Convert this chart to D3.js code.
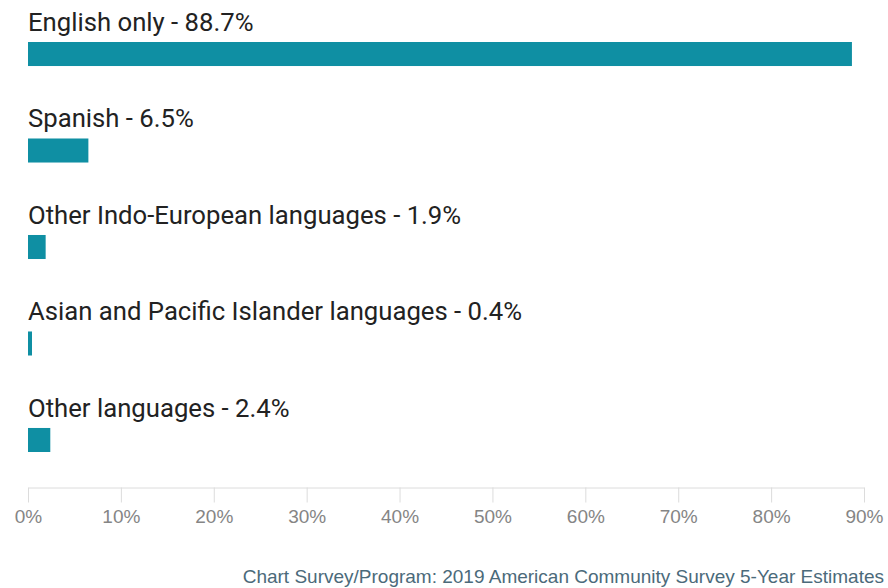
<!DOCTYPE html>
<html>
<head>
<meta charset="utf-8">
<script src="https://d3js.org/d3.v7.min.js"></script>
<style>
  html, body { margin: 0; padding: 0; background: #fff; }
  svg { display: block; font-family: Roboto, "Noto Sans", sans-serif; }
</style>
</head>
<body>
<svg id="chart" width="888" height="588"></svg>
<script>
// Language spoken at home, share of population
const categories = [
  "English only",
  "Spanish",
  "Other Indo-European languages",
  "Asian and Pacific Islander languages",
  "Other languages"
];
const values = [88.7, 6.5, 1.9, 0.4, 2.4];
const tickValues = [0, 10, 20, 30, 40, 50, 60, 70, 80, 90];
const sourceText = "Chart Survey/Program: 2019 American Community Survey 5-Year Estimates";

const data = categories.map((c, i) => ({ category: c, value: values[i] }));

const svg = d3.select("#chart");
const barColor = "#0f8fa3";

const x = d3.scaleLinear().domain([0, 90]).range([28, 864]);
const y = d3.scaleBand()
  .domain(categories)
  .range([42, 452])
  .paddingInner(0.751)
  .paddingOuter(0);

// Bars
svg.append("g")
  .selectAll("rect")
  .data(data)
  .join("rect")
  .attr("x", x(0))
  .attr("y", d => y(d.category))
  .attr("width", d => Math.max(x(d.value) - x(0), 4))
  .attr("height", y.bandwidth())
  .attr("fill", barColor);

// Category labels above each bar
svg.append("g")
  .selectAll("text")
  .data(data)
  .join("text")
  .attr("x", x(0))
  .attr("y", d => y(d.category) - 11)
  .attr("font-size", 25.7)
  .attr("fill", "#222")
  .text(d => `${d.category} - ${d.value}%`);

// Bottom axis
const axisY = 487.5;
const axis = svg.append("g")
  .attr("transform", `translate(0,${axisY})`)
  .call(d3.axisBottom(x)
    .tickValues(tickValues)
    .tickFormat(d => d + "%")
    .tickSize(15)
    .tickSizeOuter(0)
    .tickPadding(7));
axis.select(".domain").attr("stroke", "#dcdcdc");
axis.selectAll(".tick line").attr("stroke", "#dcdcdc");
axis.selectAll(".tick text")
  .attr("fill", "#858585")
  .attr("font-size", 19)
  .attr("font-family", "'Liberation Sans', Arial, sans-serif");

// Source note
svg.append("text")
  .attr("x", 884)
  .attr("y", 583)
  .attr("text-anchor", "end")
  .attr("font-size", 19)
  .attr("font-family", "'Liberation Sans', Arial, sans-serif")
  .attr("fill", "#4b6a7a")
  .text(sourceText);
</script>
</body>
</html>
